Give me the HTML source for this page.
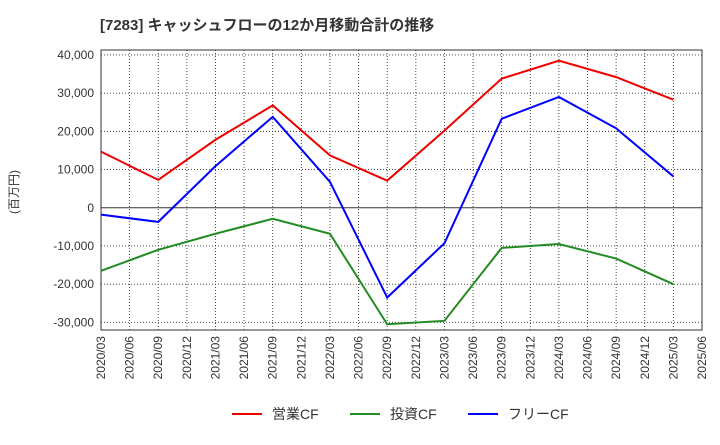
<!DOCTYPE html>
<html><head><meta charset="utf-8"><style>
body{margin:0;background:#fff;font-family:"Liberation Sans","Noto Sans CJK JP",sans-serif;}
svg text{font-family:"Liberation Sans","Noto Sans CJK JP",sans-serif;}
</style></head><body>
<svg id="c" width="720" height="440">
<text x="100" y="30" font-size="15" font-weight="bold" fill="#333">[7283]  キャッシュフローの12か月移動合計の推移</text>
<text transform="translate(18,192) rotate(-90)" text-anchor="middle" font-size="12" fill="#333">(百万円)</text>
<g id="grid"></g><g id="axes"></g><g id="series"></g>
<g>
<line x1="232" y1="414" x2="262" y2="414" stroke="#e00" stroke-width="2"/><text x="272" y="419" font-size="14" fill="#333">営業CF</text>
<line x1="350" y1="414" x2="380" y2="414" stroke="#228b22" stroke-width="2"/><text x="390" y="419" font-size="14" fill="#333">投資CF</text>
<line x1="468" y1="414" x2="498" y2="414" stroke="#00f" stroke-width="2"/><text x="508" y="419" font-size="14" fill="#333">フリーCF</text>
</g>
</svg>
<script>
const xLabels=["2020/03","2020/06","2020/09","2020/12","2021/03","2021/06","2021/09","2021/12","2022/03","2022/06","2022/09","2022/12","2023/03","2023/06","2023/09","2023/12","2024/03","2024/06","2024/09","2024/12","2025/03","2025/06"];
const yTicks=[40000,30000,20000,10000,0,-10000,-20000,-30000];
const pointIdx=[0,2,4,6,8,10,12,14,16,18,20];
const operatingCF=[14700,7300,17800,26800,13700,7100,20200,33800,38500,34200,28300];
const investingCF=[-16500,-11000,-6800,-2900,-6800,-30500,-29600,-10500,-9500,-13300,-20000];
const freeCF=[-1800,-3700,10900,23800,6800,-23500,-9300,23300,29000,20800,8200];
const L=101,R=702,T=50,B=330,yMax=41300,yMin=-32000;
const xs=i=>L+(R-L)*i/(xLabels.length-1);
const ys=v=>T+(yMax-v)/(yMax-yMin)*(B-T);
const NS="http://www.w3.org/2000/svg";
function mk(tag,attrs,parent){const e=document.createElementNS(NS,tag);for(const k in attrs)e.setAttribute(k,attrs[k]);document.getElementById(parent).appendChild(e);return e;}
const bg=mk('rect',{x:L,y:T,width:R-L,height:B-T,fill:'#fff',stroke:'#333'},'grid');


xLabels.forEach((l,i)=>{
 const g=mk('line',{x1:xs(i),x2:xs(i),y1:T,y2:B,stroke:'#333','stroke-dasharray':'1,2','stroke-width':0.9},'grid');
 
 
 const t=mk('text',{transform:`translate(${xs(i)+4},${B+6}) rotate(-90)`,'text-anchor':'end','font-size':12,fill:'#333'},'axes');
 t.textContent=l;
 
 
});
yTicks.forEach(v=>{
 const g=mk('line',{x1:L,x2:R,y1:ys(v),y2:ys(v),stroke:'#333','stroke-dasharray':v===0?'':'1,2','stroke-width':v===0?1:0.9},'grid');
 
 
 const t=mk('text',{x:L-7,y:ys(v)+4,'text-anchor':'end','font-size':12,fill:'#333'},'axes');
 t.textContent=v.toLocaleString('en-US');
 
 
});
[[operatingCF,'#e00','operating-cf-line'],[investingCF,'#228b22','investing-cf-line'],[freeCF,'#00f','free-cf-line']].forEach(([d,c,n])=>{
 const p=mk('polyline',{points:d.map((v,i)=>xs(pointIdx[i])+','+ys(v)).join(' '),fill:'none',stroke:c,'stroke-width':2},'series');
 
 
});
</script>
</body></html>
